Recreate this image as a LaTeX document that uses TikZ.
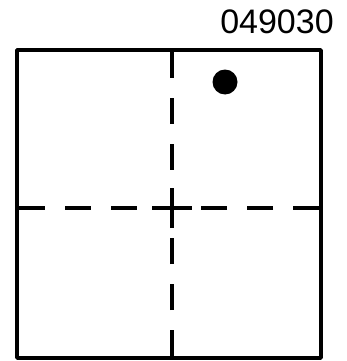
\documentclass[tikz,border=0pt]{standalone}
\usepackage{fontspec}
\setmainfont{Liberation Sans}
\begin{document}
\begin{tikzpicture}[x=1pt, y=-1pt,
    wall/.style={line width=3.4pt, line join=round},
    split/.style={line width=3.4pt, dash pattern=on 28pt off 20pt on 26pt off 20pt on 26pt off 20pt},
    cross/.style={line width=3.4pt},
    tag/.style={font=\fontsize{34}{34}\selectfont, inner sep=0pt}]
  \useasboundingbox (0,0) rectangle (346,361);

  % Corners and centre
  \coordinate (nw) at (17,50);
  \coordinate (se) at (321,358);
  \coordinate (mid) at (172,208);

  % Dashed quarter lines, drawn from the walls in to the centre
  \draw[split] (mid |- nw) -- (mid);
  \draw[split] (mid |- se) -- (mid);
  \draw[split] (mid -| nw) -- (mid);
  \draw[split] (mid -| se) -- (mid);
  \draw[cross] ([yshift=-20pt]mid) -- ([yshift=20pt]mid)
               ([xshift=-20pt]mid) -- ([xshift=20pt]mid);

  % Outer square
  \draw[wall] (nw) rectangle (se);

  % Marker
  \fill (225,82) circle (12.5);

  % Label
  \node[tag] (code) at (277,22) {049030};
\end{tikzpicture}
\end{document}
